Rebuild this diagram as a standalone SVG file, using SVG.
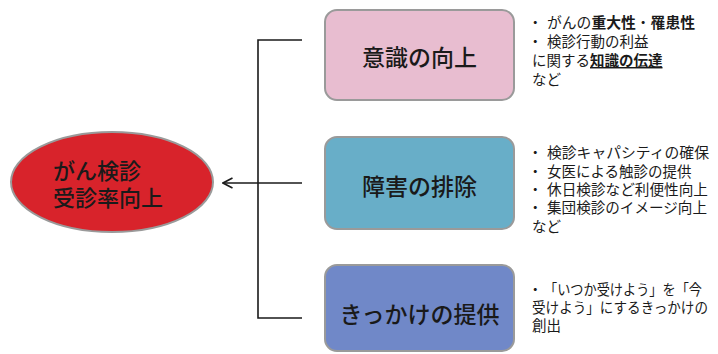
<svg xmlns="http://www.w3.org/2000/svg" width="718" height="354" viewBox="0 0 718 354">
<defs>
<style>
.t{font-family:"Noto Sans CJK JP","Noto Sans CJK SC",sans-serif;fill:#1a1a1a}
.big{font-size:23px;font-weight:500}
.el{font-size:22px;font-weight:500}
.sm{font-size:14.5px}
.b{font-weight:bold}
.box{stroke:#9a9a9a;stroke-width:2}
.conn{fill:none;stroke:#1a1a1a;stroke-width:1.6}
</style>
<marker id="arr" viewBox="0 0 12 12" refX="10.5" refY="6" markerWidth="12" markerHeight="12" markerUnits="userSpaceOnUse" orient="auto">
<path d="M1,1 L10.5,6 L1,11" fill="none" stroke="#1a1a1a" stroke-width="1.6"/>
</marker>
</defs>
<rect width="718" height="354" fill="#ffffff"/>
<g id="connectors">
<path class="conn" d="M302,40 H258 V318 H302"/>
<path class="conn" d="M302,183 H223" marker-end="url(#arr)"/>
</g>
<g id="goal">
<ellipse cx="112" cy="182" rx="101" ry="50" fill="#d8232b" stroke="#9a9a9a" stroke-width="2"/>
<text class="t el" x="53" y="179">がん検診</text>
<text class="t el" x="53" y="206">受診率向上</text>
</g>
<g id="awareness">
<rect class="box" x="325" y="10" width="189" height="90" rx="12" fill="#e8bdd0"/>
<text class="t big" x="419.5" y="66" text-anchor="middle">意識の向上</text>
</g>
<g id="barrier">
<rect class="box" x="325" y="137" width="189" height="92" rx="12" fill="#68aec8"/>
<text class="t big" x="419.5" y="195" text-anchor="middle">障害の排除</text>
</g>
<g id="trigger">
<rect class="box" x="325" y="265" width="189" height="86" rx="12" fill="#7088c8"/>
<text class="t big" x="419.5" y="323" text-anchor="middle">きっかけの提供</text>
</g>
<g id="notes1">
<text class="t sm" x="528" y="28">・</text>
<text class="t sm" x="547" y="28" textLength="148" lengthAdjust="spacingAndGlyphs">がんの<tspan class="b">重大性</tspan>・<tspan class="b">罹患性</tspan></text>
<text class="t sm" x="528" y="47">・</text>
<text class="t sm" x="547" y="47">検診行動の利益</text>
<text class="t sm" x="532" y="66">に関する<tspan class="b" text-decoration="underline">知識の伝達</tspan></text>
<text class="t sm" x="532" y="85">など</text>
</g>
<g id="notes2">
<text class="t sm" x="528" y="158">・</text>
<text class="t sm" x="547" y="158" textLength="162" lengthAdjust="spacingAndGlyphs">検診キャパシティの確保</text>
<text class="t sm" x="528" y="177">・</text>
<text class="t sm" x="547" y="177">女医による触診の提供</text>
<text class="t sm" x="528" y="195">・</text>
<text class="t sm" x="547" y="195" textLength="161" lengthAdjust="spacingAndGlyphs">休日検診など利便性向上</text>
<text class="t sm" x="528" y="213">・</text>
<text class="t sm" x="547" y="213" textLength="160" lengthAdjust="spacingAndGlyphs">集団検診のイメージ向上</text>
<text class="t sm" x="532" y="232">など</text>
</g>
<g id="notes3">
<text class="t sm" x="528" y="295">・</text>
<text class="t sm" x="544" y="295" textLength="158" lengthAdjust="spacingAndGlyphs">「いつか受けよう」を「今</text>
<text class="t sm" x="532" y="313" textLength="176" lengthAdjust="spacingAndGlyphs">受けよう」にするきっかけの</text>
<text class="t sm" x="532" y="331">創出</text>
</g>
</svg>
